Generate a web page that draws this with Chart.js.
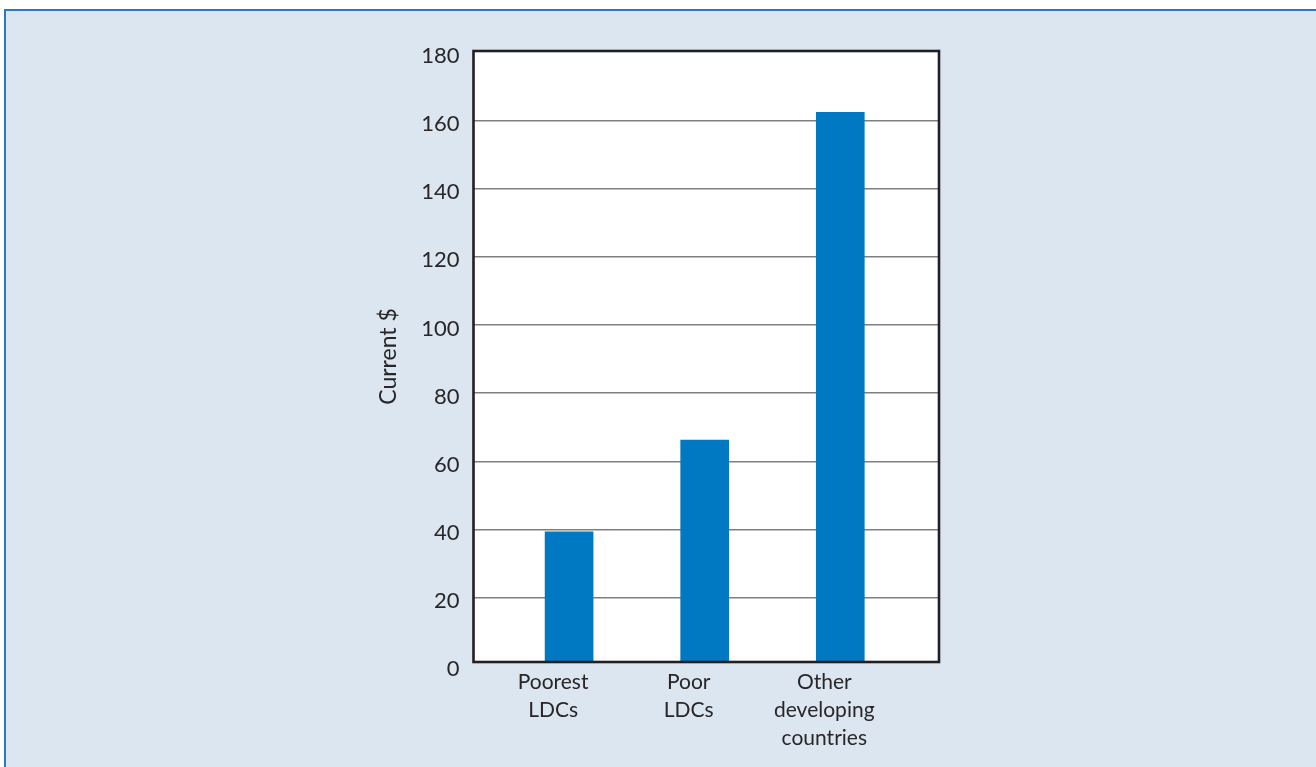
<!DOCTYPE html>
<html>
<head>
<meta charset="utf-8">
<title>Current $ by country group</title>
<script src="https://cdn.jsdelivr.net/npm/chart.js@4/dist/chart.umd.min.js"></script>
<style>
  html, body { margin: 0; padding: 0; background: #ffffff; overflow: hidden; }
  #panel {
    position: absolute; left: 4px; top: 9px; width: 1330px; height: 780px;
    background: #dbe6f1;
    border-top: 2px solid #2b79c2;
    border-left: 2px solid #2b79c2;
  }
  #wrap { position: absolute; left: 0; top: 0; width: 1316px; height: 767px; }
</style>
</head>
<body>
<div id="panel"></div>
<div id="wrap"><canvas id="chart" width="1316" height="767"></canvas></div>
<script>
// Country groups, one bar each (labels split over lines)
const categories = [
  ["Poorest", "LDCs"],
  ["Poor", "LDCs"],
  ["Other", "developing", "countries"]
];
// Value per group, current dollars
const values = [39.3, 66.2, 162.4];
// Value axis tick labels
const yTicks = [0, 20, 40, 60, 80, 100, 120, 140, 160, 180];

const INK = '#2a2627';
const FONT = 'Lato, "Open Sans", sans-serif';

// White plot background and a closed dark frame around it
const framePlugin = {
  id: 'plotFrame',
  beforeDraw(chart) {
    const a = chart.chartArea, c = chart.ctx;
    c.save();
    c.fillStyle = '#ffffff';
    c.fillRect(a.left, a.top, a.right - a.left, a.bottom - a.top);
    c.restore();
  },
  afterDraw(chart) {
    const a = chart.chartArea, c = chart.ctx;
    c.save();
    c.strokeStyle = '#231f20';
    c.lineWidth = 2.6;
    c.strokeRect(a.left, a.top, a.right - a.left, a.bottom - a.top);
    c.restore();
  }
};

new Chart(document.getElementById('chart'), {
  type: 'bar',
  data: {
    datasets: [{
      data: values.map((v, i) => ({ x: i + 1, y: v })),
      backgroundColor: '#0079c2',
      borderWidth: 0,
      barThickness: 48
    }]
  },
  options: {
    responsive: false,
    animation: false,
    layout: { padding: { left: 375, right: 377, top: 51, bottom: 15 } },
    plugins: { legend: { display: false }, tooltip: { enabled: false } },
    scales: {
      x: {
        type: 'linear',
        offset: false,
        min: 0.295,
        max: 3.728,
        afterBuildTicks(scale) {
          scale.ticks = categories.map((_, i) => ({ value: i + 1 }));
        },
        afterFit(scale) { scale.height = 90; },
        grid: { display: false, drawTicks: false, offset: false },
        border: { display: false },
        ticks: {
          autoSkip: false,
          maxRotation: 0,
          padding: 6,
          labelOffset: -16,
          color: INK,
          font: { family: FONT, size: 21, lineHeight: 1.33 },
          callback: (v) => categories[Math.round(v) - 1] || ''
        }
      },
      y: {
        min: 1.1,
        max: 180.4,
        afterBuildTicks(scale) {
          scale.ticks = yTicks.map(v => ({ value: v }));
        },
        afterFit(scale) { scale.width = 98.5; },
        grid: {
          drawTicks: false,
          lineWidth: 1.5,
          color: (ctx) => (ctx.tick && (ctx.tick.value === 0 || ctx.tick.value === 180)) ? 'rgba(0,0,0,0)' : '#7f7f7f'
        },
        border: { display: false },
        ticks: {
          padding: 14,
          labelOffset: 3.5,
          color: INK,
          font: { family: FONT, size: 22 },
          callback: (v) => String(v)
        },
        title: {
          display: true,
          text: 'Current $',
          color: INK,
          font: { family: FONT, size: 23 },
          padding: 0
        }
      }
    }
  },
  plugins: [framePlugin]
});
</script>
</body>
</html>
